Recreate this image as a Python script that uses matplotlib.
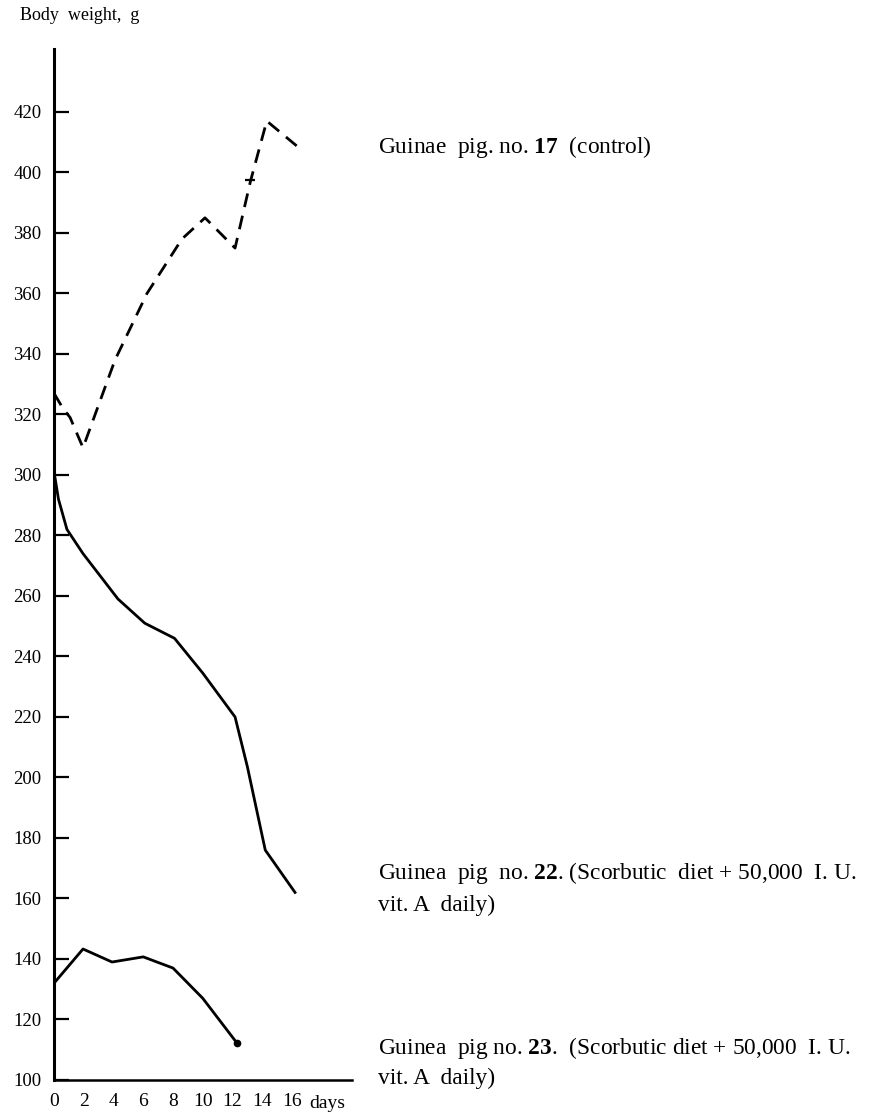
import matplotlib
matplotlib.use('Agg')
import matplotlib.pyplot as plt

plt.rcParams['font.family'] = ['Liberation Serif', 'DejaVu Serif']
plt.rcParams['mathtext.fontset'] = 'custom'
plt.rcParams['mathtext.rm'] = 'Liberation Serif'
plt.rcParams['mathtext.bf'] = 'Liberation Serif:bold'

# guinea pig no. 17 (control), dashed
days_17 = [0, 0.6, 1.08, 1.95, 4.1, 6.25, 8.6, 10.15, 12.17, 13.2, 14.3, 16.5]
weight_17 = [327, 322, 319, 309, 338, 360, 378, 385, 375, 397, 417, 408]

# guinea pig no. 22
days_22 = [0.07, 0.3, 0.87, 1.95, 4.3, 6.1, 8.1, 10.0, 12.17, 13.0, 14.2, 16.2]
weight_22 = [299, 292, 282, 274, 259, 251, 246, 234.5, 220, 203.5, 176, 162]

# guinea pig no. 23
days_23 = [0, 1.95, 3.9, 6.0, 8.0, 10.0, 12.3]
weight_23 = [132, 143.3, 139, 140.7, 137, 127, 112.2]

# odd little mark on the control curve
mark_day = [13.2]
mark_weight = [397.5]

ytick_vals = list(range(100, 421, 20))
xtick_vals = list(range(0, 17, 2))
xtick_marks = [4, 8, 12, 16]

labels = [
    ['Guinae  pig. no. $\\mathbf{17}$  (control)'],
    ['Guinea  pig  no. $\\mathbf{22}$. (Scorbutic  diet + 50,000  I. U.', 'vit. A  daily)'],
    ['Guinea  pig no. $\\mathbf{23}$.  (Scorbutic diet + 50,000  I. U.', 'vit. A  daily)'],
]
label_rows = [[147], [873, 905], [1048, 1078]]

W, H = 872, 1116
fig = plt.figure(figsize=(W / 100, H / 100), dpi=100)
ax = fig.add_axes([54 / W, 36 / H, 298 / W, 1031 / H])

ax.plot(days_17, weight_17, color='black', lw=2.0, dashes=(5, 3.2), solid_capstyle='butt')
ax.plot(mark_day, mark_weight, color='black', marker='_', ms=7, mew=1.6, ls='none')
ax.plot(days_22, weight_22, color='black', lw=2.0)
ax.plot(days_23, weight_23, color='black', lw=2.0)
ax.plot(days_23[-1:], weight_23[-1:], color='black', marker='o', ms=4.5, ls='none')

ax.set_xlim(0, 20.03)
ax.set_ylim(100, 440.8)

for s in ['top', 'right']:
    ax.spines[s].set_visible(False)
ax.spines['left'].set_linewidth(2.2)
ax.spines['bottom'].set_linewidth(1.8)

ax.set_yticks(ytick_vals)
ax.set_yticklabels([str(v) for v in ytick_vals])
ax.tick_params(axis='y', direction='in', length=11, width=1.6, pad=9, labelsize=13.5)

ax.set_xticks(xtick_vals)
ax.set_xticklabels([str(v) for v in xtick_vals])
ax.set_xticks(xtick_marks, minor=True)
ax.tick_params(axis='x', which='major', length=0, pad=9, labelsize=14)
ax.tick_params(axis='x', which='minor', direction='in', length=11, width=1.2)

ax.text(18.35, -0.0225, 'days', transform=ax.get_xaxis_transform(),
        ha='center', va='center', fontsize=14)

fig.text(20 / W, 1 - 15 / H, 'Body  weight,  g', ha='left', va='center', fontsize=13)

for lines, rows in zip(labels, label_rows):
    for txt, row in zip(lines, rows):
        fig.text(378 / W, 1 - row / H, txt, ha='left', va='center', fontsize=16.8)

fig.savefig('out.png', dpi=100)
